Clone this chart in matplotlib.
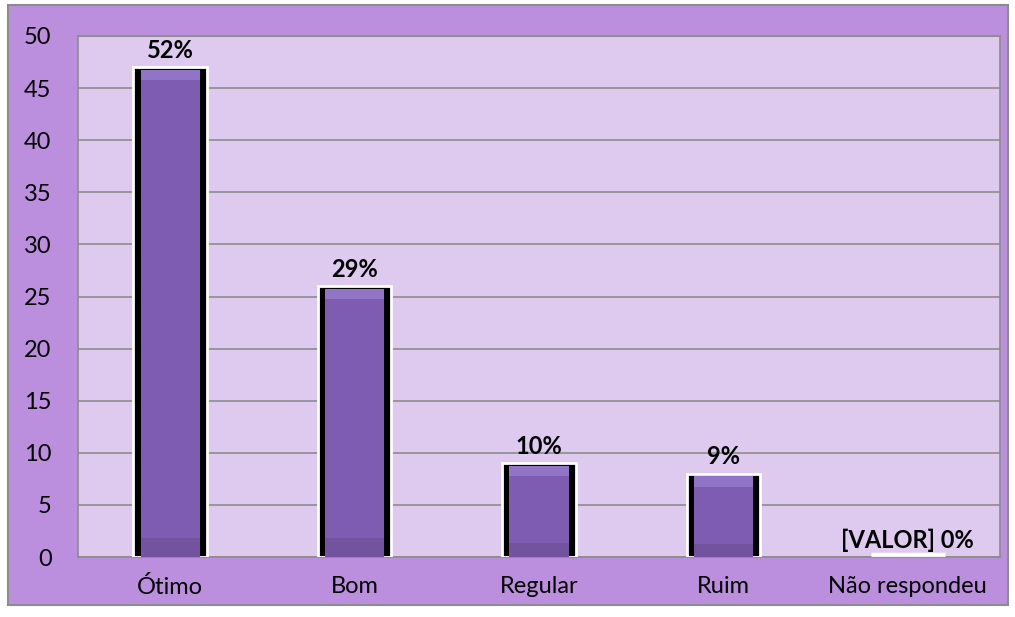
import matplotlib.pyplot as plt
from matplotlib.patches import Rectangle

# Data
categorias = ['Ótimo', 'Bom', 'Regular', 'Ruim', 'Não respondeu']
valores = [47, 26, 9, 8, 0]
rotulos = ['52%', '29%', '10%', '9%', '[VALOR] 0%']

plt.rcParams['font.family'] = ['Lato', 'DejaVu Sans']

fig = plt.figure(figsize=(10.15, 6.17), dpi=100)
fig.patch.set_facecolor('white')
# outer chart area with gray border
fig.patches.append(Rectangle((8 / 1015, 1 - 605 / 617), 1000 / 1015, 600 / 617,
                             transform=fig.transFigure, facecolor='#bc8fde',
                             edgecolor='#8c8c8c', linewidth=1.5, zorder=-10))

ax = fig.add_axes([78 / 1015, 1 - 557 / 617, 922 / 1015, 521 / 617])
ax.set_facecolor('#dec9ef')

x = list(range(len(categorias)))
# black frame bar with white outline
ax.bar(x, valores, width=0.40, color='black', edgecolor='white', linewidth=2, zorder=3)
# purple face
ax.bar(x, [v - 0.25 if v > 0 else 0 for v in valores], width=0.32,
       color='#7d5cb2', linewidth=0, zorder=4)
for xi, v in zip(x, valores):
    if v > 0:
        # lighter bevel on top, slightly darker base
        ax.bar(xi, 1.0, bottom=v - 1.25, width=0.32, color='#9274c6', linewidth=0, zorder=5)
        ax.bar(xi, min(v, 12) * 0.15, bottom=0, width=0.32, color='#73539f', linewidth=0, zorder=5)
    else:
        # empty bar shows only its white outline
        ax.hlines(0.25, xi - 0.2, xi + 0.2, color='white', linewidth=2.5, zorder=6)

for xi, v, r in zip(x, valores, rotulos):
    ax.text(xi, v + 0.5, r, ha='center', va='bottom', fontsize=17,
            fontweight='bold', color='black', zorder=6)

ax.set_xlim(-0.5, len(categorias) - 0.5)
ax.set_ylim(0, 50)
ax.set_yticks(range(0, 51, 5))
ax.set_xticks(x)
ax.set_xticklabels(categorias)
ax.tick_params(axis='both', length=0, labelsize=17, colors='black')
ax.tick_params(axis='y', pad=19)
ax.tick_params(axis='x', pad=14)
ax.yaxis.grid(True, color='#8c8c8c', linewidth=1.2, zorder=1)
ax.set_axisbelow(True)
for s in ax.spines.values():
    s.set_color('#8c8c8c')
    s.set_linewidth(1.2)

fig.savefig('out.png', dpi=100)
